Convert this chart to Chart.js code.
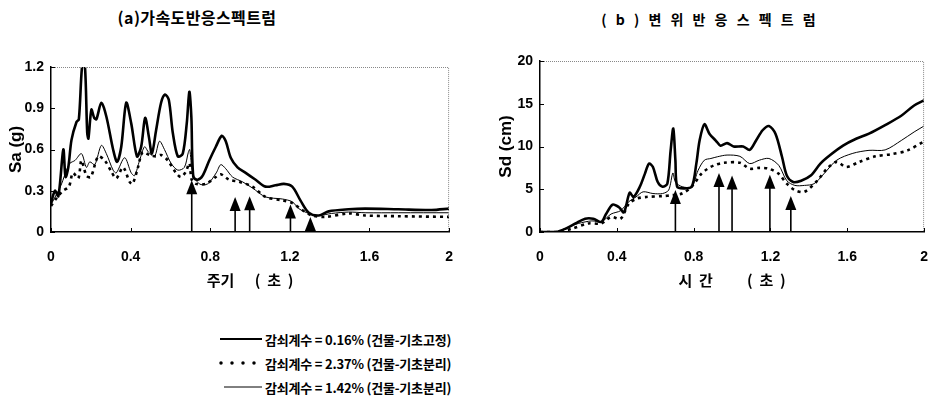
<!DOCTYPE html>
<html>
<head>
<meta charset="utf-8">
<script src="https://cdn.jsdelivr.net/npm/chart.js@4.4.0/dist/chart.umd.min.js"></script>
<style>
    body { margin: 0; background: #fff; width: 945px; height: 403px; position: relative; overflow: hidden;
           font-family: "Noto Sans CJK KR", sans-serif; }
    .title { position: absolute; font-weight: bold; font-size: 16px; white-space: nowrap; transform: translateX(-50%); }
    canvas { position: absolute; }
    .legend { position: absolute; left: 218px; top: 327px; font-size: 13px; font-weight: bold; letter-spacing: -0.2px; }
    .row { display: flex; align-items: center; height: 24px; }
    .row svg { margin-right: 3px; }
</style>
</head>
<body>
<div class="title" style="left:197px; top:5px; letter-spacing:0.4px;">(a)가속도반응스펙트럼</div>
<div class="title" style="left:710px; top:9px; font-size:14px; letter-spacing:3px;">( b ) 변 위 반 응 스 펙 트 럼</div>

<canvas id="saChart" width="470" height="260" style="left:0; top:40px;"></canvas>
<canvas id="sdChart" width="470" height="260" style="left:475px; top:40px;"></canvas>

<div class="legend">
    <div class="row"><svg width="44" height="6"><line x1="2" y1="3" x2="44" y2="3" stroke="#000" stroke-width="2"/></svg><span id="lg0"></span></div>
    <div class="row"><svg width="44" height="6"><line x1="3" y1="3" x2="44" y2="3" stroke="#000" stroke-width="3.5" stroke-linecap="round" stroke-dasharray="0 11"/></svg><span id="lg1"></span></div>
    <div class="row"><svg width="44" height="6"><line x1="6" y1="3" x2="44" y2="3" stroke="#000" stroke-width="1"/></svg><span id="lg2"></span></div>
</div>

<script>
// 범례 / 축
const seriesNames = ['감쇠계수 = 0.16% (건물-기초고정)', '감쇠계수 = 2.37% (건물-기초분리)', '감쇠계수 = 1.42% (건물-기초분리)'];
const periodTicks = [0, 0.4, 0.8, 1.2, 1.6, 2];
const saTicks = [0, 0.3, 0.6, 0.9, 1.2];
const sdTicks = [0, 5, 10, 15, 20];

// (a) 가속도반응스펙트럼 [주기, Sa]
const saFixed = [[0,0.21],[0.02,0.30],[0.037,0.26],[0.062,0.60],[0.073,0.40],[0.087,0.47],[0.103,0.67],[0.128,0.80],
    [0.14,0.82],[0.157,1.22],[0.17,1.22],[0.182,0.72],[0.188,0.68],[0.203,0.89],[0.217,0.83],[0.228,0.82],[0.253,0.94],
    [0.278,0.84],[0.312,0.60],[0.332,0.51],[0.353,0.62],[0.378,0.94],[0.403,0.79],[0.432,0.55],[0.453,0.62],[0.473,0.83],
    [0.492,0.69],[0.507,0.57],[0.528,0.74],[0.553,0.94],[0.573,1.0],[0.592,0.96],[0.612,0.72],[0.637,0.55],[0.662,0.57],
    [0.682,0.79],[0.695,1.02],[0.705,0.84],[0.715,0.40],[0.737,0.38],[0.762,0.41],[0.795,0.52],[0.828,0.62],[0.858,0.70],
    [0.878,0.66],[0.903,0.54],[0.937,0.47],[0.978,0.43],[1.028,0.38],[1.078,0.33],[1.128,0.34],[1.17,0.35],[1.212,0.33],
    [1.253,0.23],[1.295,0.14],[1.345,0.12],[1.395,0.15],[1.495,0.165],[1.578,0.17],[1.745,0.165],[1.912,0.16],[2.0,0.17]];
const saIsoA = [[0,0.19],[0.03,0.25],[0.06,0.30],[0.09,0.33],[0.11,0.43],[0.137,0.39],[0.153,0.52],[0.178,0.41],[0.2,0.40],
    [0.237,0.55],[0.27,0.52],[0.303,0.44],[0.328,0.39],[0.362,0.47],[0.395,0.365],[0.41,0.35],[0.437,0.47],[0.46,0.58],
    [0.495,0.56],[0.528,0.55],[0.553,0.56],[0.587,0.52],[0.628,0.43],[0.653,0.40],[0.678,0.44],[0.695,0.50],[0.707,0.38],
    [0.728,0.35],[0.778,0.35],[0.828,0.40],[0.853,0.42],[0.895,0.38],[0.945,0.365],[1.012,0.33],[1.078,0.255],[1.162,0.23],
    [1.212,0.21],[1.262,0.16],[1.312,0.12],[1.378,0.11],[1.495,0.135],[1.578,0.12],[1.745,0.115],[2.0,0.11]];
const saIsoB = [[0,0.20],[0.03,0.28],[0.053,0.35],[0.078,0.45],[0.095,0.50],[0.12,0.52],[0.153,0.57],[0.178,0.47],[0.195,0.51],
    [0.22,0.49],[0.253,0.63],[0.278,0.57],[0.312,0.45],[0.328,0.43],[0.37,0.54],[0.403,0.43],[0.42,0.41],[0.445,0.52],
    [0.47,0.62],[0.49,0.58],[0.52,0.55],[0.545,0.66],[0.57,0.60],[0.603,0.50],[0.637,0.45],[0.67,0.47],[0.69,0.58],
    [0.697,0.60],[0.712,0.43],[0.745,0.35],[0.787,0.35],[0.83,0.43],[0.853,0.49],[0.878,0.46],[0.912,0.40],[0.962,0.365],
    [1.012,0.32],[1.078,0.255],[1.162,0.24],[1.212,0.22],[1.245,0.17],[1.295,0.135],[1.345,0.12],[1.41,0.135],[1.495,0.145],
    [1.578,0.14],[1.745,0.14],[2.0,0.14]];
const saArrowT = [0.707, 0.925, 0.998, 1.203, 1.303];
const saArrowTip = [0.377, 0.255, 0.26, 0.2, 0.11];

// (b) 변위반응스펙트럼 [시간, Sd]
const sdFixed = [[0,0],[0.084,0],[0.134,0.4],[0.185,1.0],[0.235,1.56],[0.277,1.56],[0.319,1.17],[0.344,2.1],[0.378,3.2],
    [0.411,2.9],[0.437,2.3],[0.467,4.6],[0.487,4.1],[0.52,5.3],[0.546,6.8],[0.568,8.0],[0.588,7.6],[0.613,5.85],[0.638,5.3],
    [0.663,5.65],[0.68,9.5],[0.694,12.1],[0.705,8.4],[0.714,5.3],[0.747,5.1],[0.79,5.3],[0.814,8.0],[0.831,10.7],[0.856,12.6],
    [0.882,11.5],[0.915,10.7],[0.94,10.1],[0.974,10.4],[1.008,10.0],[1.058,10.0],[1.092,9.6],[1.125,10.7],[1.159,11.9],
    [1.192,12.4],[1.226,11.5],[1.26,8.8],[1.285,6.6],[1.318,5.85],[1.36,6.0],[1.41,6.6],[1.46,8.0],[1.511,9.0],[1.578,10.1],
    [1.646,10.9],[1.713,11.5],[1.797,12.5],[1.881,13.6],[1.948,14.8],[2.0,15.4]];
const sdIsoA = [[0,0],[0.1,0],[0.168,0.4],[0.252,1.0],[0.319,1.0],[0.37,1.75],[0.42,1.56],[0.462,3.3],[0.504,3.9],[0.554,4.1],
    [0.638,4.2],[0.688,4.3],[0.739,4.5],[0.79,5.3],[0.84,6.8],[0.873,7.4],[0.907,7.8],[0.957,8.1],[1.041,8.1],[1.092,7.4],
    [1.142,7.5],[1.192,7.4],[1.243,6.8],[1.285,5.65],[1.327,4.9],[1.377,4.7],[1.444,6.0],[1.494,7.4],[1.545,8.2],[1.595,7.6],
    [1.662,8.2],[1.746,8.85],[1.83,9.1],[1.914,9.55],[2.0,10.6]];
const sdIsoB = [[0,0],[0.084,0],[0.15,0.6],[0.2,1.0],[0.27,1.3],[0.32,1.2],[0.37,2.1],[0.42,2.5],[0.46,3.5],[0.5,4.1],
    [0.537,4.7],[0.588,4.5],[0.638,4.5],[0.67,4.9],[0.692,6.9],[0.705,5.85],[0.74,5.3],[0.79,5.3],[0.823,7.2],[0.856,8.4],
    [0.89,8.6],[0.924,8.8],[0.974,9.0],[1.041,8.85],[1.092,8.0],[1.142,8.4],[1.192,8.6],[1.243,7.8],[1.285,6.0],[1.327,5.45],
    [1.377,5.45],[1.427,5.65],[1.478,6.8],[1.545,8.4],[1.629,9.2],[1.713,9.55],[1.797,9.6],[1.881,10.7],[1.948,11.7],[2.0,12.4]];
const sdArrowT = [0.705, 0.932, 1.0, 1.197, 1.306];
const sdArrowTip = [4.9, 6.9, 6.6, 6.7, 4.2];

seriesNames.forEach((n, i) => { document.getElementById('lg' + i).textContent = n; });

const tickFont = { family: '"Liberation Sans", Arial, sans-serif', size: 14, weight: 'bold' };
const titleFont = { family: '"Noto Sans CJK KR", "Liberation Sans", sans-serif', size: 15, weight: 'bold' };

// 점선 테두리, 안쪽 눈금, 화살표
const frameAndArrows = {
    id: 'frameAndArrows',
    afterDatasetsDraw(chart, args, opts) {
        const { ctx, chartArea: a, scales: { x, y } } = chart;
        ctx.save();
        ctx.strokeStyle = '#888';
        ctx.lineWidth = 1;
        ctx.setLineDash([1, 1]);
        ctx.beginPath();
        ctx.moveTo(a.left, a.top + 0.5);
        ctx.lineTo(a.right - 0.5, a.top + 0.5);
        ctx.lineTo(a.right - 0.5, a.bottom);
        ctx.stroke();
        ctx.setLineDash([]);

        ctx.strokeStyle = '#000';
        opts.xTicks.forEach(v => {
            const px = Math.round(x.getPixelForValue(v)) + 0.5;
            ctx.beginPath(); ctx.moveTo(px, a.bottom); ctx.lineTo(px, a.bottom - 4); ctx.stroke();
        });
        opts.yTicks.forEach(v => {
            const py = Math.round(y.getPixelForValue(v)) + 0.5;
            ctx.beginPath(); ctx.moveTo(a.left, py); ctx.lineTo(a.left + 4, py); ctx.stroke();
        });

        ctx.fillStyle = '#000';
        ctx.lineWidth = 1.6;
        opts.t.forEach((t, i) => {
            const px = x.getPixelForValue(t);
            const tip = y.getPixelForValue(opts.tip[i]);
            const base = y.getPixelForValue(0);
            ctx.beginPath(); ctx.moveTo(px, base); ctx.lineTo(px, tip + 10); ctx.stroke();
            ctx.beginPath();
            ctx.moveTo(px, tip);
            ctx.lineTo(px - 5.5, tip + 14);
            ctx.lineTo(px + 5.5, tip + 14);
            ctx.closePath();
            ctx.fill();
        });
        ctx.restore();
    }
};

function toPoints(pairs) {
    return pairs.map(p => ({ x: p[0], y: p[1] }));
}

function makeChart(id, fixed, isoA, isoB, yTicks, yMax, yTitle, xTitle, arrowT, arrowTip, yWidth, yTitlePad, pad) {
    const fmt = v => String(v);
    return new Chart(document.getElementById(id), {
        type: 'line',
        data: {
            datasets: [
                { label: seriesNames[1], data: toPoints(isoA), borderColor: '#000', borderWidth: 2.6,
                  borderDash: [3, 4], pointRadius: 0, tension: 0.3 },
                { label: seriesNames[2], data: toPoints(isoB), borderColor: '#000', borderWidth: 1,
                  pointRadius: 0, tension: 0.3 },
                { label: seriesNames[0], data: toPoints(fixed), borderColor: '#000', borderWidth: 2.6,
                  pointRadius: 0, tension: 0.3 }
            ]
        },
        options: {
            responsive: false,
            animation: false,
            layout: { padding: pad },
            plugins: {
                legend: { display: false },
                tooltip: { enabled: false },
                frameAndArrows: { t: arrowT, tip: arrowTip, xTicks: periodTicks, yTicks: yTicks }
            },
            scales: {
                x: {
                    type: 'linear', min: 0, max: 2,
                    afterBuildTicks: s => { s.ticks = periodTicks.map(v => ({ value: v })); },
                    afterFit: s => { s.height = 68; },
                    grid: { display: false, drawTicks: false },
                    border: { color: '#000', width: 1.5 },
                    ticks: { color: '#000', font: tickFont, padding: 17, maxRotation: 0, callback: fmt },
                    title: { display: true, text: xTitle, color: '#000', font: titleFont, padding: { bottom: 11 } }
                },
                y: {
                    type: 'linear', min: 0, max: yMax,
                    afterBuildTicks: s => { s.ticks = yTicks.map(v => ({ value: v })); },
                    afterFit: s => { s.width = yWidth; },
                    grid: { display: false, drawTicks: false },
                    border: { color: '#000', width: 1.5 },
                    ticks: { color: '#000', font: tickFont, padding: 7, callback: fmt },
                    title: { display: true, text: yTitle, color: '#000', font: { ...tickFont, size: 17 }, padding: { top: yTitlePad } }
                }
            }
        },
        plugins: [frameAndArrows]
    });
}

makeChart('saChart', saFixed, saIsoA, saIsoB, saTicks, 1.2, 'Sa (g)', '주기      (  초  )',
    saArrowT, saArrowTip, 51, 6, { left: 0, top: 27, right: 19, bottom: 0 });
makeChart('sdChart', sdFixed, sdIsoA, sdIsoB, sdTicks, 20, 'Sd (cm)', '시  간          (  초  )',
    sdArrowT, sdArrowTip, 65, 21, { left: 0, top: 21, right: 8, bottom: 0 });
</script>
</body>
</html>
